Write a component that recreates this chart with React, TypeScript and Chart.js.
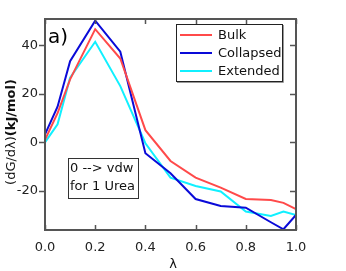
import React, { useEffect, useRef } from "react";
import { Chart, registerables } from "chart.js";

Chart.register(...registerables);

const lambdas = [0, 0.05, 0.1, 0.2, 0.3, 0.4, 0.5, 0.6, 0.7, 0.8, 0.9, 0.95, 1.0];
const bulk = [1, 12, 26, 46.7, 34.6, 5, -7.7, -14.6, -18.7, -23.4, -23.8, -25, -27.6];
const collapsed = [3.3, 14.7, 33.5, 50.2, 37.4, -4.5, -12.8, -23.4, -26.3, -27, -33, -35.9, -30];
const extended = [0, 7.4, 26.7, 41.5, 23.2, -0.4, -14.6, -18, -20.3, -28.6, -30.4, -28.6, -30];
const seriesNames = ["Bulk", "Collapsed", "Extended"];
const seriesColors = ["#ff4a4a", "#0a0ad8", "#10f0ff"];
const xTicks = [0, 0.2, 0.4, 0.6, 0.8, 1.0];
const yTicks = [-20, 0, 20, 40];
const noteLines = ["0 --> vdw", "for 1 Urea"];
const FONT = "DejaVu Sans";

const decorPlugin = {
  id: "decor",
  afterDraw(chart: any) {
    const { ctx, chartArea: a, scales } = chart;
    const xs = scales.x, ys = scales.y;
    ctx.save();
    // frame
    ctx.strokeStyle = "#555";
    ctx.lineWidth = 2;
    ctx.strokeRect(a.left, a.top, a.right - a.left, a.bottom - a.top);
    // ticks
    ctx.lineWidth = 1.5;
    ctx.beginPath();
    yTicks.forEach((v) => {
      const y = Math.round(ys.getPixelForValue(v)) + 0.5;
      ctx.moveTo(a.left - 6, y); ctx.lineTo(a.left, y);
      ctx.moveTo(a.right, y); ctx.lineTo(a.right - 6, y);
    });
    xTicks.forEach((v) => {
      const x = Math.round(xs.getPixelForValue(v)) + 0.5;
      ctx.moveTo(x, a.bottom); ctx.lineTo(x, a.bottom - 5);
      ctx.moveTo(x, a.top); ctx.lineTo(x, a.top + 5);
    });
    ctx.stroke();

    // "a)"
    ctx.fillStyle = "#000";
    ctx.font = `20px ${FONT}`;
    ctx.textBaseline = "alphabetic";
    ctx.textAlign = "left";
    ctx.fillText("a)", 48, 43);

    // legend
    ctx.fillStyle = "#fff";
    ctx.fillRect(176, 24, 107, 58);
    ctx.strokeStyle = "#999";
    ctx.lineWidth = 1;
    ctx.beginPath();
    ctx.moveTo(177, 82.5); ctx.lineTo(283.5, 82.5); ctx.lineTo(283.5, 25);
    ctx.stroke();
    ctx.strokeStyle = "#222";
    ctx.strokeRect(176.5, 24.5, 106, 57);
    ctx.font = `13px ${FONT}`;
    ctx.textBaseline = "middle";
    seriesNames.forEach((n, i) => {
      const y = 35 + i * 18;
      ctx.strokeStyle = seriesColors[i];
      ctx.lineWidth = 2;
      ctx.beginPath();
      ctx.moveTo(180, y); ctx.lineTo(212, y);
      ctx.stroke();
      ctx.fillStyle = "#111";
      ctx.fillText(n, 218, y + 1);
    });

    // note box
    ctx.fillStyle = "#fff";
    ctx.fillRect(68, 158, 71, 40);
    ctx.strokeStyle = "#333";
    ctx.lineWidth = 1;
    ctx.strokeRect(68.5, 158.5, 70, 40);
    ctx.fillStyle = "#111";
    noteLines.forEach((t, i) => ctx.fillText(t, 70, 169 + i * 18));

    // x title
    ctx.textAlign = "center";
    ctx.fillText("\u03bb", 173, 265);

    // y title
    ctx.translate(12, 132);
    ctx.rotate(-Math.PI / 2);
    const p1 = "(dG/d\u03bb)";
    const p2 = "(kJ/mol)";
    ctx.font = `13px ${FONT}`;
    const w1 = ctx.measureText(p1).width;
    ctx.font = `bold 13px ${FONT}`;
    const w2 = ctx.measureText(p2).width;
    const start = -(w1 + w2) / 2;
    ctx.textAlign = "left";
    ctx.font = `13px ${FONT}`;
    ctx.fillText(p1, start, 0);
    ctx.font = `bold 13px ${FONT}`;
    ctx.fillText(p2, start + w1, 0);
    ctx.restore();
  },
};

export default function App() {
  const ref = useRef<HTMLCanvasElement>(null);
  useEffect(() => {
    if (!ref.current) return;
    const mk = (vals: number[]) => lambdas.map((x, i) => ({ x, y: vals[i] }));
    const all = [bulk, collapsed, extended];
    const chart = new Chart(ref.current, {
      type: "line",
      data: {
        datasets: all.map((vals, i) => ({
          label: seriesNames[i],
          data: mk(vals),
          borderColor: seriesColors[i],
          backgroundColor: seriesColors[i],
          borderWidth: 2,
          pointRadius: 0,
          tension: 0,
          fill: false,
        })),
      },
      options: {
        responsive: false,
        animation: false,
        events: [],
        layout: { padding: { left: 0, top: 19, right: 50, bottom: 0 } },
        plugins: { legend: { display: false }, tooltip: { enabled: false }, title: { display: false } },
        scales: {
          x: {
            type: "linear",
            min: 0,
            max: 1,
            grid: { display: false, drawTicks: false },
            border: { display: false },
            afterBuildTicks: (s: any) => { s.ticks = xTicks.map((v) => ({ value: v })); },
            afterFit: (s: any) => { s.height = 41; },
            ticks: {
              padding: 10,
              color: "#222",
              font: { family: FONT, size: 13 },
              maxRotation: 0,
              callback: (v: any) => Number(v).toFixed(1),
            },
          },
          y: {
            type: "linear",
            min: -36.2,
            max: 50.9,
            grid: { display: false, drawTicks: false },
            border: { display: false },
            afterBuildTicks: (s: any) => { s.ticks = yTicks.map((v) => ({ value: v })); },
            afterFit: (s: any) => { s.width = 45; },
            ticks: {
              padding: 7,
              color: "#222",
              font: { family: FONT, size: 13 },
              callback: (v: any) => String(v),
            },
          },
        },
      },
      plugins: [decorPlugin],
    } as any);
    return () => chart.destroy();
  }, []);
  return (
    <div style={{ position: "absolute", left: 0, top: 0, width: 346, height: 271, background: "#fff" }}>
      <canvas ref={ref} width={346} height={271} style={{ width: 346, height: 271, display: "block" }} />
    </div>
  );
}
